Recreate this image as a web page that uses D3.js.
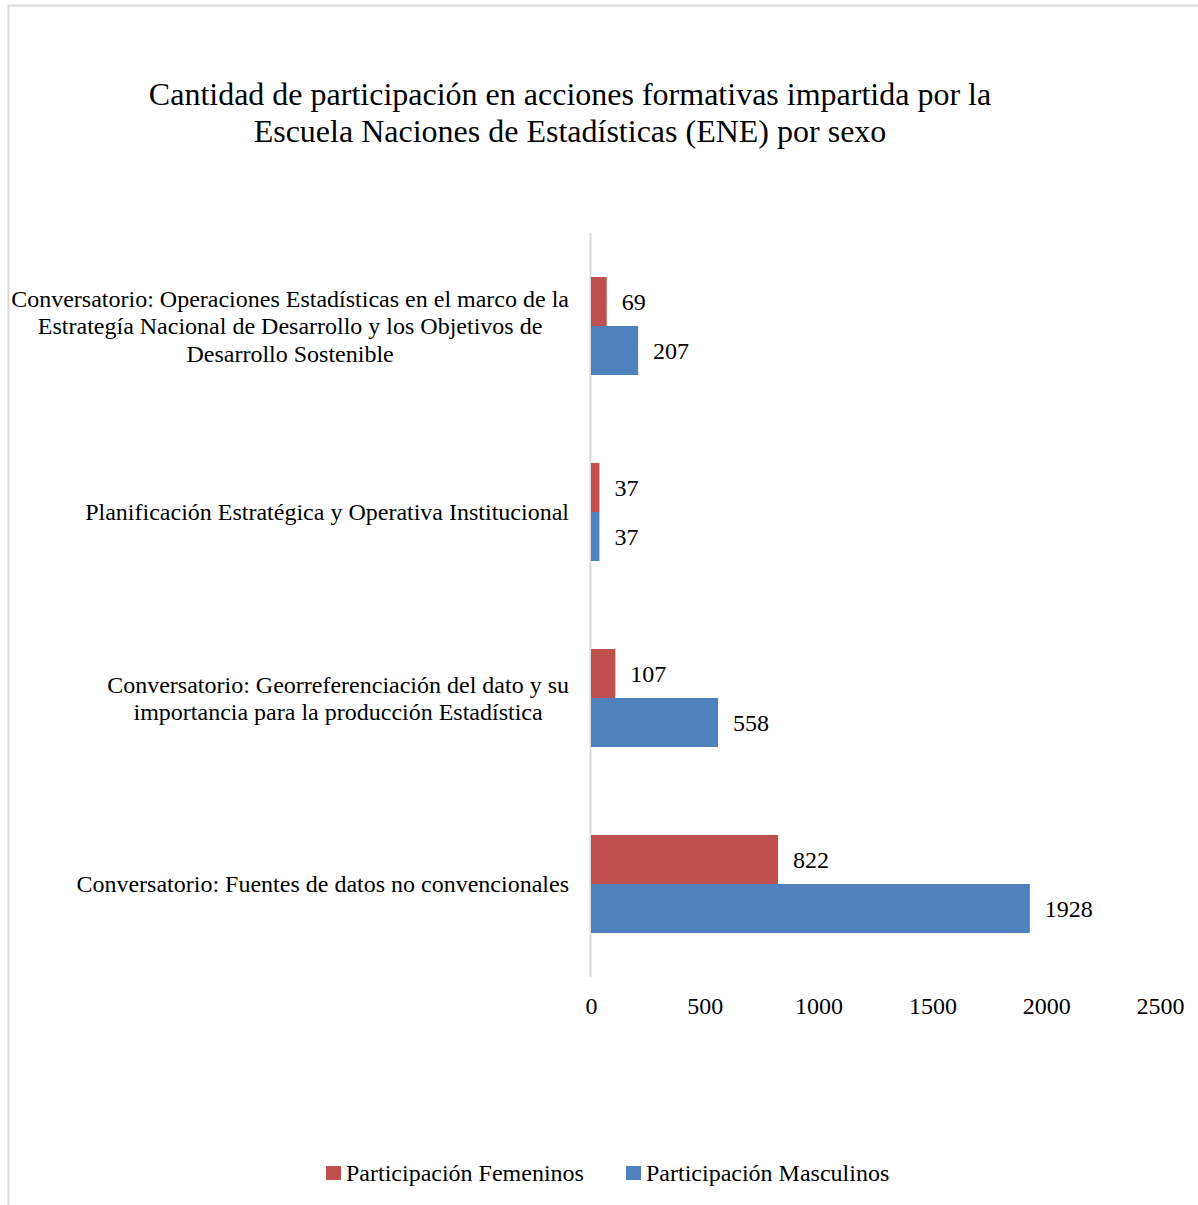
<!DOCTYPE html>
<html><head><meta charset="utf-8">
<script src="https://cdn.jsdelivr.net/npm/d3@7"></script>
<style>
html,body{margin:0;padding:0;background:#fff;}
svg{display:block;font-family:"Liberation Serif","Times New Roman",serif;}
</style></head>
<body><svg id="c" width="1198" height="1205"></svg>
<script>
const categories = [
  "Conversatorio: Operaciones Estadísticas en el marco de la|Estrategía Nacional de Desarrollo y los Objetivos de|Desarrollo Sostenible",
  "Planificación Estratégica y Operativa Institucional",
  "Conversatorio: Georreferenciación del dato y su|importancia para la producción Estadística",
  "Conversatorio: Fuentes de datos no convencionales"
];
const femeninos = [69, 37, 107, 822];
const masculinos = [207, 37, 558, 1928];
const seriesNames = ["Participación Femeninos", "Participación Masculinos"];
const seriesColors = ["#C0504D", "#4F81BD"];
const xTicks = [0, 500, 1000, 1500, 2000, 2500];
const titleLines = ["Cantidad de participación en acciones formativas impartida por la", "Escuela Naciones de Estadísticas (ENE) por sexo"];

const svg = d3.select("#c");
// outer border
svg.append("rect").attr("x", 8.5).attr("y", 5.5).attr("width", 1300).attr("height", 1300)
  .attr("fill", "none").attr("stroke", "#d9d9d9").attr("stroke-width", 2);

// title
svg.append("g").selectAll("text").data(titleLines).join("text")
  .attr("x", 570).attr("y", (d, i) => 94 + i * 37).attr("dy", "0.35em")
  .attr("text-anchor", "middle").attr("font-size", 32).attr("fill", "#000")
  .text(d => d);

const x = d3.scaleLinear().domain([0, 2500]).range([591, 1160]);
const y = d3.scaleBand().domain(categories).range([233, 977]).paddingInner(0.473).paddingOuter(0.2366);
const sub = d3.scaleBand().domain([0, 1]).range([0, y.bandwidth()]);

// axis line
svg.append("line").attr("x1", 590.5).attr("x2", 590.5).attr("y1", 233).attr("y2", 977)
  .attr("stroke", "#d9d9d9").attr("stroke-width", 2);

const data = categories.map((c, i) => ({cat: c, vals: [femeninos[i], masculinos[i]]}));

const g = svg.append("g");
const grp = g.selectAll("g").data(data).join("g").attr("transform", d => `translate(0,${y(d.cat)})`);
grp.selectAll("rect").data(d => d.vals).join("rect")
  .attr("x", x(0)).attr("y", (d, i) => sub(i)).attr("width", d => x(d) - x(0)).attr("height", sub.bandwidth())
  .attr("fill", (d, i) => seriesColors[i]);
grp.selectAll("text.v").data(d => d.vals).join("text").attr("class", "v")
  .attr("x", d => x(d) + 15).attr("y", (d, i) => sub(i) + sub.bandwidth() / 2)
  .attr("dy", "0.35em").attr("font-size", 24).attr("fill", "#000").text(d => d);

// category labels
const lab = svg.append("g").attr("font-size", 24).attr("fill", "#000");
data.forEach(d => {
  const lines = d.cat.split("|");
  const t = lab.append("text").attr("text-anchor", "middle");
  const cy = y(d.cat) + y.bandwidth() / 2;
  const lh = 27.5;
  const y0 = cy - (lines.length - 1) * lh / 2;
  const spans = lines.map((l, i) => t.append("tspan").attr("y", y0 + i * lh).attr("dy", "0.35em").text(l));
  let maxW = 0;
  spans.forEach(s => { maxW = Math.max(maxW, s.node().getComputedTextLength()); });
  const cx = 569 - maxW / 2;
  spans.forEach(s => s.attr("x", cx));
});

// x axis tick labels
const ax = svg.append("g").attr("transform", "translate(0,1006)")
  .call(d3.axisBottom(x).tickValues(xTicks).tickSize(0).tickFormat(d3.format("d")));
ax.select(".domain").remove();
ax.selectAll("text").attr("font-size", 24).attr("font-family", "Liberation Serif, Times New Roman, serif")
  .attr("fill", "#000").attr("y", 0).attr("dy", "0.35em");

// legend
const legX = [326, 626];
const leg = svg.append("g");
seriesNames.forEach((n, i) => {
  leg.append("rect").attr("x", legX[i]).attr("y", 1166).attr("width", 15).attr("height", 14).attr("fill", seriesColors[i]);
  leg.append("text").attr("x", legX[i] + 20).attr("y", 1173).attr("dy", "0.35em")
    .attr("font-size", 24).attr("fill", "#000").text(n);
});
</script></body></html>
